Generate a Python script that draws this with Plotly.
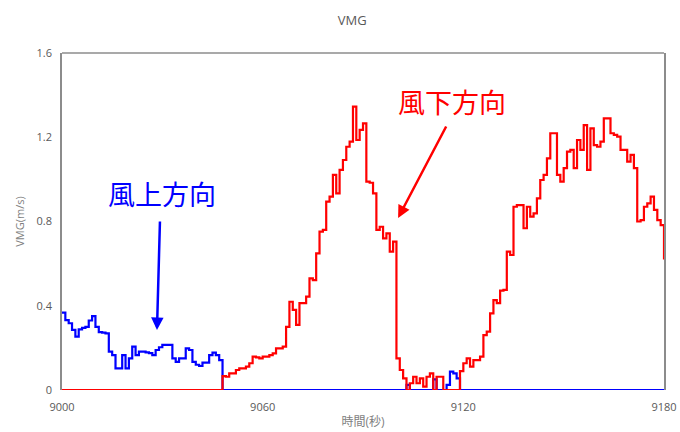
import plotly.graph_objects as go

# ---- data ----
times = list(range(9000, 9181))

vmg = [
    0.367, 0.332, 0.317, 0.285, 0.253, 0.288, 0.295, 0.300, 0.330, 0.351,  # 9000-9009
    0.300, 0.275, 0.272, 0.269, 0.182, 0.166, 0.103, 0.103, 0.166, 0.103,  # 9010-9019
    0.150, 0.206, 0.166, 0.182, 0.182, 0.179, 0.175, 0.166, 0.190, 0.203,  # 9020-9029
    0.214, 0.214, 0.214, 0.150, 0.134, 0.150, 0.150, 0.198, 0.190, 0.134,  # 9030-9039
    0.120, 0.114, 0.130, 0.130, 0.166, 0.177, 0.166, 0.142, 0.066, 0.063,  # 9040-9049
    0.079, 0.079, 0.095, 0.103, 0.103, 0.111, 0.127, 0.158, 0.155, 0.150,  # 9050-9059
    0.158, 0.158, 0.166, 0.174, 0.198, 0.198, 0.206, 0.300, 0.419, 0.380,  # 9060-9069
    0.309, 0.412, 0.412, 0.443, 0.530, 0.522, 0.649, 0.752, 0.760, 0.894,  # 9070-9079
    0.918, 1.021, 0.934, 1.045, 1.092, 1.155, 1.179, 1.345, 1.187, 1.235,  # 9080-9089
    1.266, 0.989, 0.984, 0.934, 0.760, 0.775, 0.720, 0.744, 0.657, 0.704,  # 9090-9099
    0.150, 0.095, 0.055, 0.024, 0.032, 0.063, 0.032, 0.055, 0.016, 0.063,  # 9100-9109
    0.079, 0.050, 0.063, 0.063, 0.000, 0.024, 0.087, 0.079, 0.055, 0.090,  # 9110-9119
    0.127, 0.150, 0.111, 0.142, 0.142, 0.158, 0.261, 0.277, 0.364, 0.427,  # 9120-9129
    0.412, 0.472, 0.475, 0.657, 0.641, 0.870, 0.878, 0.878, 0.768, 0.870,  # 9130-9139
    0.823, 0.839, 0.910, 0.997, 1.021, 1.100, 1.219, 1.219, 1.021, 0.989,  # 9140-9149
    1.053, 1.132, 1.140, 1.053, 1.187, 1.140, 1.258, 1.045, 1.242, 1.163,  # 9150-9159
    1.155, 1.179, 1.290, 1.290, 1.219, 1.211, 1.203, 1.140, 1.140, 1.084,  # 9160-9169
    1.116, 1.053, 0.800, 0.807, 0.870, 0.886, 0.918, 0.855, 0.807, 0.783,  # 9170-9179
    0.620,                                                                 # 9180
]

# direction for each second: U = upwind (風上), D = downwind (風下)
direction = (
    "U" * 48 +                       # 9000-9047
    "D" * 55 +                       # 9048-9102
    "U" +                            # 9103
    "D" * 7 +                        # 9104-9110
    "U" +                            # 9111
    "D" * 3 +                        # 9112-9114
    "U" * 4 +                        # 9115-9118
    "D" * 62                         # 9119-9180
)

assert len(vmg) == len(times) == len(direction)

upwind = [v if d == "U" else 0.0 for v, d in zip(vmg, direction)]
downwind = [v if d == "D" else 0.0 for v, d in zip(vmg, direction)]

x_ticks = [9000, 9060, 9120, 9180]
y_ticks = [0, 0.4, 0.8, 1.2, 1.6]
y_tick_labels = ["0", "0.4", "0.8", "1.2", "1.6"]

BLUE = "#0000FF"
RED = "#FF0000"
GRAY_TXT = "#595959"
FONT = "Open Sans, Noto Sans CJK JP, sans-serif"
CJK = "Noto Sans CJK JP, sans-serif"
FRAME = "#8c8c8c"

fig = go.Figure()
fig.add_trace(go.Scatter(x=times, y=upwind, mode="lines", line=dict(color=BLUE, width=2.2, shape="hv"),
                         name="風上方向", hoverinfo="x+y"))
fig.add_trace(go.Scatter(x=times, y=downwind, mode="lines", line=dict(color=RED, width=2.2, shape="hv"),
                         name="風下方向", hoverinfo="x+y"))

# annotations: labels + arrows
fig.add_annotation(x=9029.9, y=0.935, text="風上方向", showarrow=False,
                   font=dict(family=CJK, size=27, color=BLUE))
fig.add_annotation(x=9028.4, y=0.285, ax=9029.3, ay=0.807, axref="x", ayref="y",
                   text="", showarrow=True, arrowhead=2, arrowsize=1, arrowwidth=2.5,
                   arrowcolor=BLUE)
fig.add_annotation(x=9116.6, y=1.368, text="風下方向", showarrow=False,
                   font=dict(family=CJK, size=27, color=RED))
fig.add_annotation(x=9100.5, y=0.817, ax=9115.1, ay=1.258, axref="x", ayref="y",
                   text="", showarrow=True, arrowhead=2, arrowsize=1, arrowwidth=2.5,
                   arrowcolor=RED)

# top frame line (bottom edge is left to the series' zero lines, as in the reference)
fig.add_shape(type="line", xref="paper", yref="paper", x0=0, x1=1, y0=1, y1=1,
              line=dict(color=FRAME, width=1.5), layer="below")

fig.update_layout(
    width=680, height=432,
    margin=dict(l=62, r=16, t=53, b=42),
    paper_bgcolor="white", plot_bgcolor="white",
    showlegend=False,
    font=dict(family=FONT, size=11, color=GRAY_TXT),
    title=dict(text="VMG", x=0.518, xanchor="center", y=0.953, yanchor="middle",
               font=dict(family=FONT, size=13, color=GRAY_TXT)),
    xaxis=dict(range=[9000, 9180], tickvals=x_ticks, ticktext=[str(t) for t in x_ticks],
               showgrid=False, zeroline=False, showline=False, ticks="",
               automargin=False, ticklabelstandoff=9,
               title=dict(text="時間(秒)", font=dict(family=FONT, size=12, color="#7f7f7f"), standoff=4),
               tickfont=dict(size=11, color=GRAY_TXT)),
    yaxis=dict(range=[0, 1.6], tickvals=y_ticks, ticktext=y_tick_labels,
               showgrid=False, zeroline=False, showline=True, mirror=True,
               linecolor=FRAME, linewidth=1.5, ticks="", layer="below traces",
               automargin=False, ticklabelstandoff=6,
               title=dict(text="VMG(m/s)", font=dict(family=FONT, size=11, color="#7f7f7f"), standoff=10),
               tickfont=dict(size=11, color=GRAY_TXT)),
)

fig.write_html("out.html", post_script="document.body.style.margin='0';",
               config={"displayModeBar": False})
